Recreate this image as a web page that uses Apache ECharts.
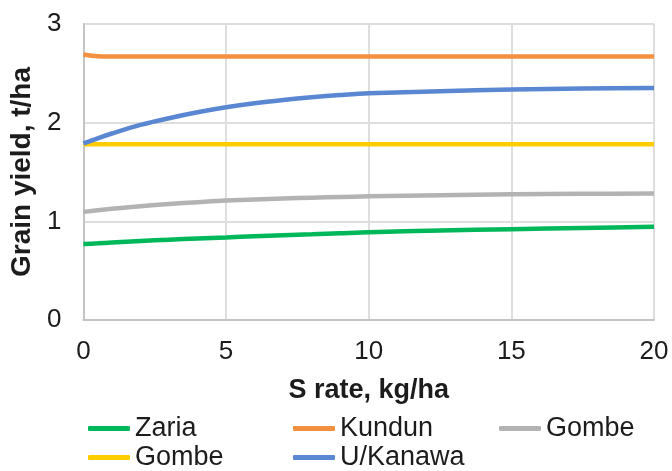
<!DOCTYPE html>
<html>
<head>
<meta charset="utf-8">
<script src="https://cdn.jsdelivr.net/npm/echarts@6/dist/echarts.min.js"></script>
<style>
  html, body { margin: 0; padding: 0; background: #fff; }
  #chart { width: 672px; height: 471px; }
</style>
</head>
<body>
<div id="chart"></div>
<script>
// Grain yield response to sulphur rate at five locations
const sRate      = [0, 0.5, 1, 2, 3, 4, 5, 6, 7, 8, 9, 10, 12.5, 15, 17.5, 20];
const zaria      = [0.77, 0.777, 0.785, 0.80, 0.814, 0.826, 0.837, 0.848, 0.858, 0.868, 0.879, 0.89, 0.906, 0.921, 0.933, 0.944];
const kundun     = [2.69, 2.672, 2.67, 2.67, 2.67, 2.67, 2.67, 2.67, 2.67, 2.67, 2.67, 2.67, 2.67, 2.67, 2.67, 2.67];
const gombeA     = [1.096, 1.112, 1.127, 1.153, 1.175, 1.194, 1.21, 1.222, 1.232, 1.24, 1.247, 1.253, 1.265, 1.274, 1.279, 1.283];
const gombeB     = [1.78, 1.78, 1.78, 1.78, 1.78, 1.78, 1.78, 1.78, 1.78, 1.78, 1.78, 1.78, 1.78, 1.78, 1.78, 1.78];
const uKanawa    = [1.79, 1.842, 1.89, 1.977, 2.045, 2.105, 2.156, 2.197, 2.23, 2.258, 2.28, 2.298, 2.319, 2.337, 2.346, 2.352];
const xTicks     = [0, 5, 10, 15, 20];
const yTicks     = [0, 1, 2, 3];

const seriesDefs = [
  { name: 'Zaria',    values: zaria,   color: '#00b85a' },
  { name: 'Kundun',   values: kundun,  color: '#f39140' },
  { name: 'Gombe',    values: gombeA,  color: '#b3b3b3' },
  { name: 'Gombe',    values: gombeB,  color: '#ffcc00' },
  { name: 'U/Kanawa', values: uKanawa, color: '#5a87d2' }
];

// legend slots: [left, top] for each entry
const legendSlots = [[88, 415], [293, 415], [499, 415], [88, 444], [293, 444]];

const font = 'Liberation Sans, Arial, Helvetica, sans-serif';
const textColor = '#1c1c1c';

const chart = echarts.init(document.getElementById('chart'), null, { renderer: 'canvas' });

const option = {
  animation: false,
  backgroundColor: '#ffffff',
  textStyle: { fontFamily: font },
  grid: { left: 83, right: 18, top: 24, bottom: 151, containLabel: false },
  xAxis: {
    type: 'value',
    min: xTicks[0],
    max: xTicks[xTicks.length - 1],
    interval: 5,
    name: 'S rate, kg/ha',
    nameLocation: 'middle',
    nameGap: 57,
    nameTextStyle: { fontSize: 27, fontWeight: 'bold', color: textColor, fontFamily: font },
    axisLine: { show: true, lineStyle: { color: '#c4c4c4', width: 2 } },
    axisTick: { show: false },
    axisLabel: { fontSize: 26, color: textColor, margin: 19, fontFamily: font },
    splitLine: { show: true, lineStyle: { color: '#dedede', width: 2 } }
  },
  yAxis: {
    type: 'value',
    min: yTicks[0],
    max: yTicks[yTicks.length - 1],
    interval: 1,
    name: 'Grain yield, t/ha',
    nameLocation: 'middle',
    nameRotate: 90,
    nameGap: 40,
    nameTextStyle: { fontSize: 28, fontWeight: 'bold', color: textColor, fontFamily: font },
    axisLine: { show: true, lineStyle: { color: '#c4c4c4', width: 2 } },
    axisTick: { show: false },
    axisLabel: { fontSize: 26, color: textColor, margin: 22, fontFamily: font },
    splitLine: { show: true, lineStyle: { color: '#dedede', width: 2 } }
  },
  legend: seriesDefs.map((s, i) => ({
    left: legendSlots[i][0],
    top: legendSlots[i][1],
    padding: 0,
    orient: 'horizontal',
    icon: 'roundRect',
    itemWidth: 42,
    itemHeight: 5,
    selectedMode: false,
    textStyle: { fontSize: 27, color: textColor, fontFamily: font, padding: [19, 0, 0, 0] },
    data: [{ name: s.name, itemStyle: { color: s.color } }]
  })),
  series: seriesDefs.map(s => ({
    name: s.name,
    type: 'line',
    smooth: 0.3,
    showSymbol: false,
    symbol: 'none',
    lineStyle: { color: s.color, width: 4.5 },
    itemStyle: { color: s.color },
    data: sRate.map((x, j) => [x, s.values[j]])
  }))
};

chart.setOption(option);
</script>
</body>
</html>
